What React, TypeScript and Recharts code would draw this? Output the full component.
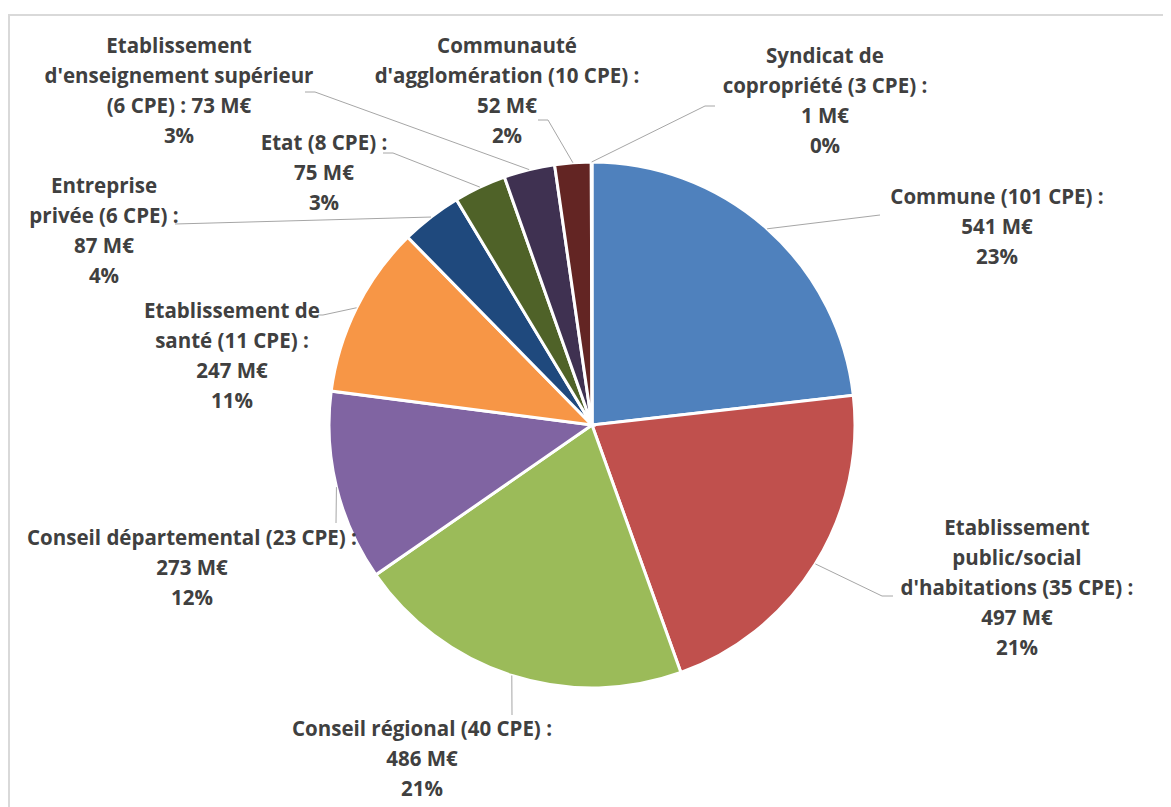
import { PieChart, Pie, Cell } from "recharts";

// values in M€, number of CPE per type of owner
const categories = [
  "Commune",
  "Etablissement public/social d'habitations",
  "Conseil régional",
  "Conseil départemental",
  "Etablissement de santé",
  "Entreprise privée",
  "Etat",
  "Etablissement d'enseignement supérieur",
  "Communauté d'agglomération",
  "Syndicat de copropriété",
];
const cpeCounts = [101, 35, 40, 23, 11, 6, 8, 6, 10, 3];
const amounts = [541, 497, 486, 273, 247, 87, 75, 73, 52, 1];

const COLORS = [
  "#4F81BD", "#C0504D", "#9BBB59", "#8064A2", "#F79646",
  "#1F497D", "#4F6228", "#3F3151", "#632523", "#984807",
];

const data = categories.map((name, i) => ({ name, cpe: cpeCounts[i], value: amounts[i] }));

// layout of the labels: how many words per line, text anchor, leader line points
const LINE_WORDS = [[4, 2], [1, 1, 4, 2], [5, 2], [5, 2], [2, 4, 2], [1, 4, 2], [4, 2], [1, 2, 5], [1, 4, 2], [2, 4, 2]];
const LABEL_POS = [
  [989, 188], [1009, 519], [414, 720], [184, 529], [224, 302],
  [96, 177], [316, 134], [171, 37], [499, 37], [817, 47],
];
const LEADERS = [
  [[872, 207]],
  [[874, 588], [885, 588]],
  [[504, 707]],
  [[328, 515]],
  [[315, 307], [310, 307]],
  [[167, 216]],
  [[385, 145], [375, 145]],
  [[307, 84], [297, 84]],
  [[540, 112], [530, 112]],
  [[697, 98], [707, 98]],
];

const RADIAN = Math.PI / 180;
const LINE_H = 30;

function renderLabel(props: any) {
  const { cx, cy, midAngle, outerRadius, percent, index, payload } = props;
  const x0 = cx + outerRadius * Math.cos(-midAngle * RADIAN);
  const y0 = cy + outerRadius * Math.sin(-midAngle * RADIAN);
  const pts = [[x0, y0], ...LEADERS[index]];
  const words = `${payload.name} (${payload.cpe} CPE) : ${payload.value} M€`.split(" ");
  const lines: string[] = [];
  let k = 0;
  for (const n of LINE_WORDS[index]) {
    lines.push(words.slice(k, k + n).join(" "));
    k += n;
  }
  lines.push(`${Math.round(percent * 100)}%`);
  const [tx, ty] = LABEL_POS[index];
  return (
    <g key={`lbl-${index}`}>
      <polyline points={pts.map((p) => p.join(",")).join(" ")} fill="none" stroke="#A6A6A6" strokeWidth={1} />
      {lines.map((l, j) => (
        <text
          key={j}
          x={tx}
          y={ty + j * LINE_H}
          textAnchor="middle"
          dominantBaseline="central"
          fill="#404040"
          fontSize={20.5}
          fontWeight={700}
          fontFamily="'Open Sans', sans-serif"
        >
          {l}
        </text>
      ))}
    </g>
  );
}

export default function App() {
  return (
    <div style={{ position: "relative", width: 1163, height: 799 }}>
      <div
        style={{
          position: "absolute",
          left: 0,
          top: 6,
          width: 1163,
          height: 793,
          boxSizing: "border-box",
          borderTop: "2px solid #D9D9D9",
          borderLeft: "2px solid #D9D9D9",
        }}
      />
      <div style={{ position: "absolute", left: 0, top: 0 }}>
        <PieChart width={1163} height={799} margin={{ top: 0, right: 0, bottom: 0, left: 0 }}>
          <Pie
            data={data}
            dataKey="value"
            nameKey="name"
            cx={584}
            cy={417}
            outerRadius={263}
            startAngle={90}
            endAngle={-270}
            stroke="#FFFFFF"
            strokeWidth={3}
            label={renderLabel}
            labelLine={false}
            isAnimationActive={false}
          >
            {data.map((d, i) => (
              <Cell key={`cell-${i}`} fill={COLORS[i]} />
            ))}
          </Pie>
        </PieChart>
      </div>
    </div>
  );
}
